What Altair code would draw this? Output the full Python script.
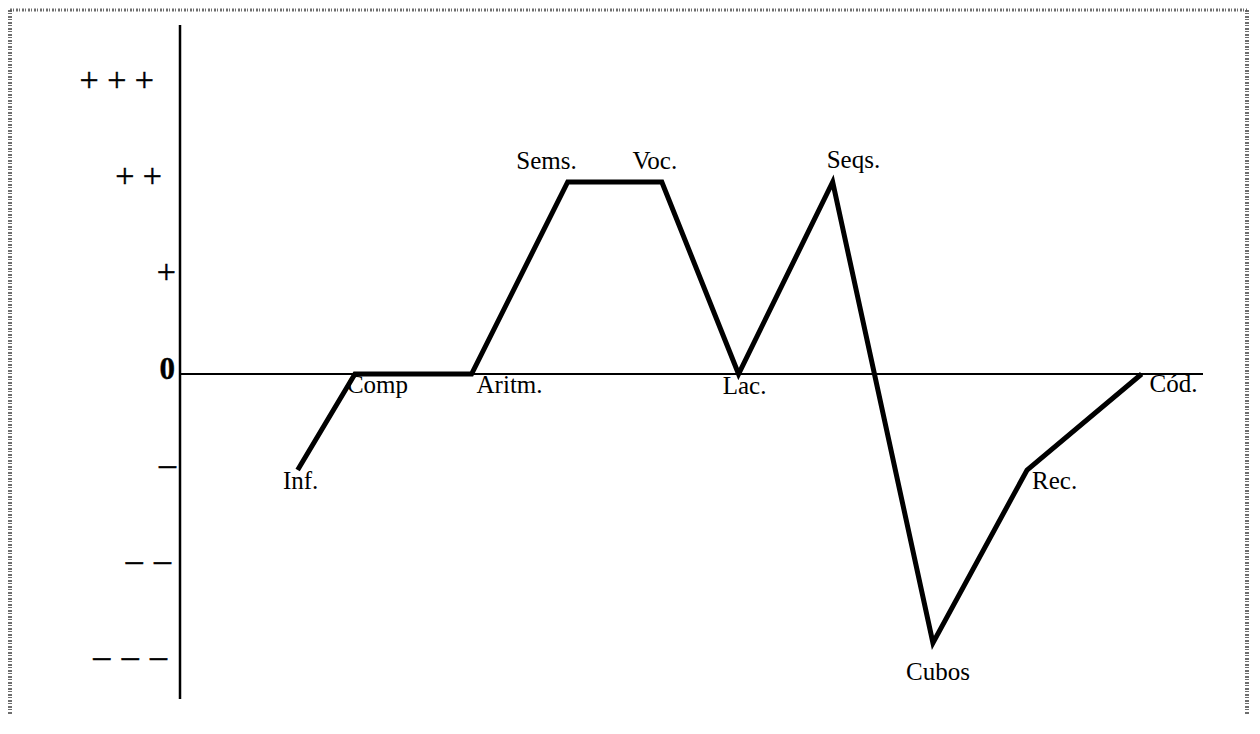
import altair as alt
import pandas as pd

# ---- data ----
NOMBRES = ["Inf.", "Comp", "Aritm.", "Sems.", "Voc.", "Lac.", "Seqs.", "Cubos", "Rec.", "Cód."]
POSICION = [11.5, 17.1, 28.5, 37.9, 47.1, 54.6, 63.8, 73.6, 82.8, 94.0]
NIVEL = [-1, 0, 0, 2, 2, 0, 2, -2.8, -1, 0]

NIVELES_EJE = [3, 2, 1, 0, -1, -2, -3]
ETIQUETAS_EJE = ["+ + +", "+ +", "+", "0", "–", "– \u200a–", "– \u200a– \u200a–"]

X_DOM = [0, 100]
Y_DOM = [-3.385, 3.635]

df = pd.DataFrame({"nombre": NOMBRES, "pos": POSICION, "nivel": NIVEL,
                   "orden": list(range(len(NOMBRES)))})
ejes = pd.DataFrame({"nivel": NIVELES_EJE, "etiqueta": ETIQUETAS_EJE})
eje_v_df = pd.DataFrame({"pos": [X_DOM[0]], "nivel": [Y_DOM[1]], "nivel2": [Y_DOM[0]]})
eje_h_df = pd.DataFrame({"pos": [X_DOM[0]], "pos2": [X_DOM[1]], "nivel": [0]})
uno = pd.DataFrame({"k": [0]})

FONT = "Liberation Serif"
W, H = 1023, 674
xscale = alt.Scale(domain=X_DOM, nice=False, zero=False)
yscale = alt.Scale(domain=Y_DOM, nice=False, zero=False)

X = alt.X("pos:Q", scale=xscale, axis=None)
Y = alt.Y("nivel:Q", scale=yscale, axis=None)

# styling for point labels: align, dx, dy (alphabetic baseline)
LABEL_STYLE = {
    "Inf.": ("center", 3, 19),
    "Comp": ("left", -8, 19),
    "Aritm.": ("left", 5, 19),
    "Sems.": ("right", 9, -13),
    "Voc.": ("center", -7, -13),
    "Lac.": ("center", 6, 20),
    "Seqs.": ("left", -6, -14),
    "Cubos": ("center", 5, 37),
    "Rec.": ("left", 5, 19),
    "Cód.": ("left", 8, 18),
}
# right-edge offsets for the y level labels
YLABEL_DX = {"+ + +": -26, "+ +": -18, "+": -4, "0": -5,
             ETIQUETAS_EJE[4]: -4, ETIQUETAS_EJE[5]: -9, ETIQUETAS_EJE[6]: -13}

# vertical axis line and zero line
eje_v = alt.Chart(eje_v_df).mark_rule(color="black", strokeWidth=2.5).encode(
    x=X, y=Y, y2="nivel2:Q")
eje_h = alt.Chart(eje_h_df).mark_rule(color="black", strokeWidth=2).encode(
    x=X, x2="pos2:Q", y=Y)

linea = alt.Chart(df).mark_line(color="black", strokeWidth=5,
                                strokeJoin="miter", strokeCap="butt").encode(
    x=X, y=Y, order="orden:Q")

layers = [eje_v, eje_h, linea]

for nombre in NOMBRES:
    align, dx, dy = LABEL_STYLE[nombre]
    layers.append(
        alt.Chart(df).transform_filter(alt.datum.nombre == nombre)
        .mark_text(align=align, dx=dx, dy=dy, baseline="alphabetic",
                   font=FONT, fontSize=25, color="black")
        .encode(x=X, y=Y, text="nombre:N")
    )

for et in ETIQUETAS_EJE:
    bold = et == "0"
    layers.append(
        alt.Chart(ejes).transform_filter(alt.datum.etiqueta == et)
        .mark_text(align="right", dx=YLABEL_DX[et], dy=5, baseline="alphabetic",
                   font=FONT, fontSize=31 if bold else 34,
                   fontWeight="bold" if bold else "normal", color="black",
                   stroke="black", strokeWidth=0.4)
        .encode(x=alt.value(0), y=Y, text="etiqueta:N")
    )

# scanned page frame
marco = dict(color="#555555", strokeWidth=4, strokeDash=[2, 1, 1, 2], opacity=0.85)
layers.append(alt.Chart(uno).mark_rule(**marco).encode(
    x=alt.value(-170), y=alt.value(-15), y2=alt.value(689)))
layers.append(alt.Chart(uno).mark_rule(**marco).encode(
    x=alt.value(1067), y=alt.value(-15), y2=alt.value(689)))
layers.append(alt.Chart(uno).mark_rule(color="#555555", strokeWidth=3,
                                       strokeDash=[2, 1, 1, 2], opacity=0.85).encode(
    x=alt.value(-170), x2=alt.value(1067), y=alt.value(-15)))

chart = alt.layer(*layers).properties(
    width=W, height=H,
    padding={"left": 172, "top": 17, "right": 47, "bottom": 15},
    autosize=alt.AutoSizeParams(type="none"),
    background="white",
).configure_view(stroke=None)

chart.save("out.html", embed_options={"renderer": "svg", "actions": False})
